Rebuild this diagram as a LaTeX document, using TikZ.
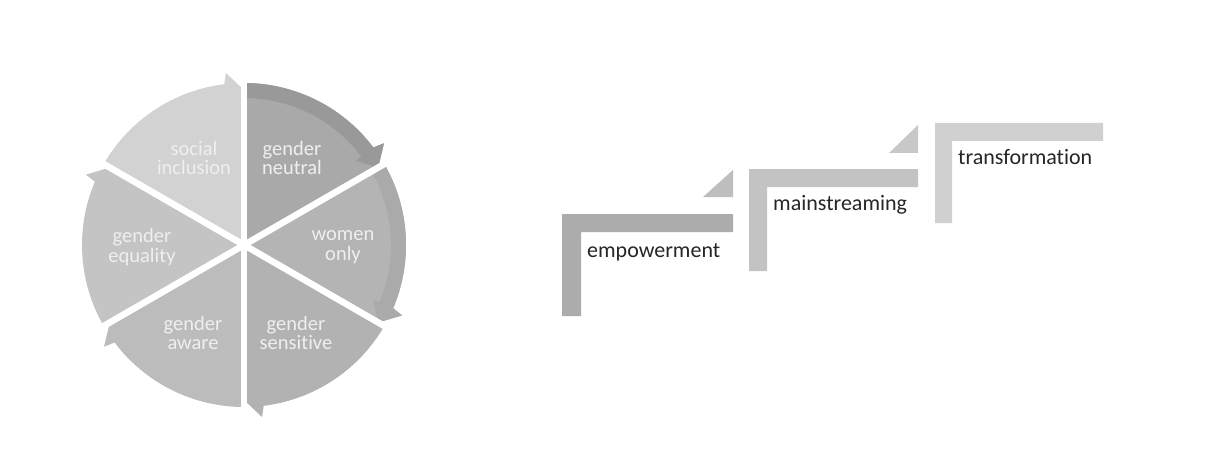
\documentclass[tikz,border=0pt]{standalone}
\usepackage{fontspec}
\setmainfont{Carlito}[Ligatures={NoCommon}]
\usetikzlibrary{calc}
\definecolor{cSI}{HTML}{D2D2D2}
\definecolor{cGN}{HTML}{A9A9A9}
\definecolor{cGNb}{HTML}{999999}
\definecolor{cWO}{HTML}{B4B4B4}
\definecolor{cWOb}{HTML}{AAAAAA}
\definecolor{cGS}{HTML}{B2B2B2}
\definecolor{cGA}{HTML}{BCBCBC}
\definecolor{cGE}{HTML}{C4C4C4}
\definecolor{cS1}{HTML}{ACACAC}
\definecolor{cT1}{HTML}{BEBEBE}
\definecolor{cS2}{HTML}{C3C3C3}
\definecolor{cT2}{HTML}{C8C8C8}
\definecolor{cS3}{HTML}{D0D0D0}
\definecolor{wtext}{HTML}{EFEFEF}
\definecolor{stext}{HTML}{262626}
% wedge: #1 start angle, #2 end angle (clockwise), #3 colour
\newcommand\mywedge[3]{%
  \pgfmathsetmacro\wa{#2+7}\pgfmathsetmacro\wb{#2+6}%
  \fill[#3] (C) -- ($(C)+(#1:162)$) arc[start angle=#1, end angle=\wa, radius=162]
    -- ($(C)+(\wb:173)$) -- ($(C)+(#2:155)$) -- cycle;}
\newcommand\myband[3]{%
  \pgfmathsetmacro\wa{#2+7}\pgfmathsetmacro\wb{#2+6}%
  \fill[#3] ($(C)+(#1:147)$) arc[start angle=#1, end angle=\wa, radius=147]
    -- ($(C)+(\wa:140)$) -- ($(C)+(#2:155)$) -- ($(C)+(\wb:173)$)
    -- ($(C)+(\wa:162)$) arc[start angle=\wa, end angle=#1, radius=162] -- cycle;}
\tikzset{
  wlabel/.style={text=wtext, align=center, font=\fontsize{20.5}{19.5}\selectfont, inner sep=0pt},
  slabel/.style={text=stext, anchor=base west, font=\fontsize{22}{26}\selectfont, inner sep=0pt},
  gapline/.style={white, line width=6.5pt}
}
\begin{document}
\begin{tikzpicture}[x=1pt,y=1pt]
\useasboundingbox (0,0) rectangle (1227,475);
\fill[white] (0,0) rectangle (1227,475);
\coordinate (C) at (244,230);
% wedges
\mywedge{150}{90}{cSI}
\mywedge{90}{30}{cGN}
\myband{90}{30}{cGNb}
\mywedge{30}{-30}{cWO}
\myband{30}{-30}{cWOb}
\mywedge{-30}{-90}{cGS}
\mywedge{-90}{-150}{cGA}
\mywedge{-150}{-210}{cGE}
\foreach \a in {90,30,-30,-90,-150,150}
  \draw[gapline] (C) -- ($(C)+(\a:185)$);
% wedge labels
\node[wlabel] (si) at (194,317) {social\\inclusion};
\node[wlabel] (gn) at (292,317) {gender\\neutral};
\node[wlabel] (wo) at (343,228) {women\\only};
\node[wlabel] (gs) at (296,142) {gender\\sensitive};
\node[wlabel] (ga) at (193,142) {gender\\aware};
\node[wlabel] (ge) at (142,228) {gender\\equality};
% steps
\fill[cS1] (562,159) -- (562,261) -- (733,261) -- (733,243) -- (581,243) -- (581,159) -- cycle;
\fill[cT1] (733,305) -- (703,278) -- (733,278) -- cycle;
\fill[cS2] (749,204) -- (749,306) -- (918,306) -- (918,288) -- (767,288) -- (767,204) -- cycle;
\fill[cT2] (918,350) -- (889,322) -- (918,322) -- cycle;
\fill[cS3] (935,252) -- (935,352) -- (1103,352) -- (1103,334) -- (952,334) -- (952,252) -- cycle;
\node[slabel] (emp) at (587,218) {empowerment};
\node[slabel] (mai) at (773,265) {mainstreaming};
\node[slabel] (tra) at (958,310) {transformation};
\end{tikzpicture}
\end{document}
